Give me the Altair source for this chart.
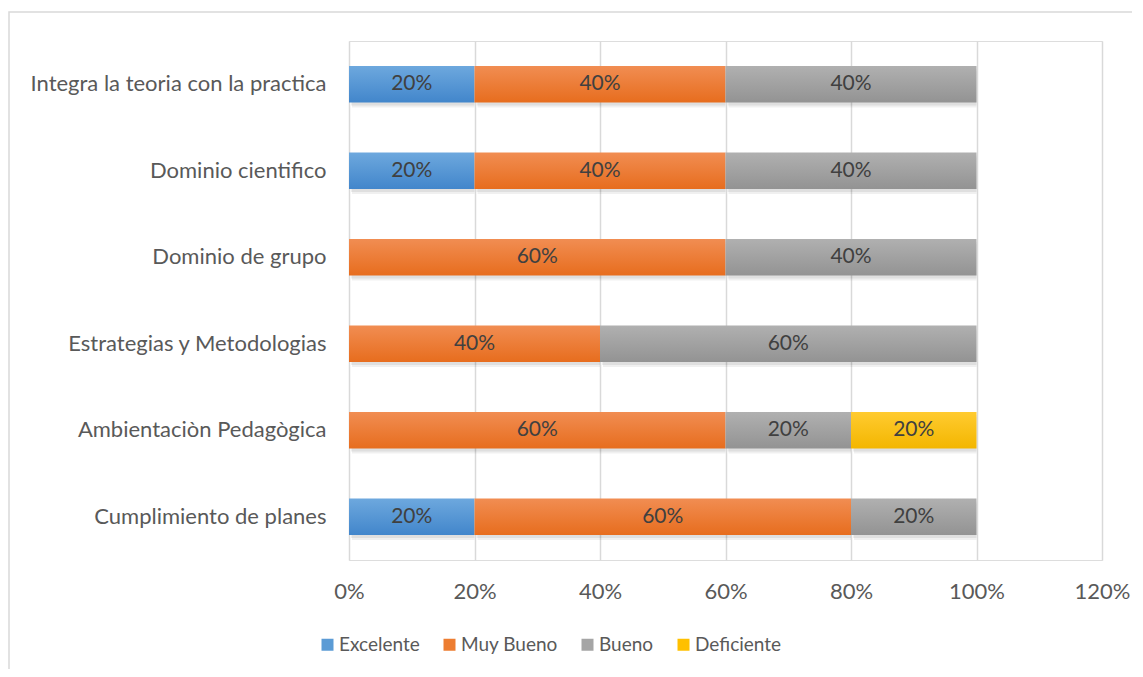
import altair as alt
import pandas as pd

categories = ["Integra la teoria con la practica", "Dominio cientifico", "Dominio de grupo",
              "Estrategias y Metodologias", "Ambientaciòn Pedagògica", "Cumplimiento de planes"]
series = ["Excelente", "Muy Bueno", "Bueno", "Deficiente"]
excelente = [0.20, 0.20, 0.0, 0.0, 0.0, 0.20]
muy_bueno = [0.40, 0.40, 0.60, 0.40, 0.60, 0.60]
bueno = [0.40, 0.40, 0.40, 0.60, 0.20, 0.20]
deficiente = [0.0, 0.0, 0.0, 0.0, 0.20, 0.0]
colors = ["#5B9BD5", "#ED7D31", "#A5A5A5", "#FFC000"]
grad_top = ["#6DA8DE", "#F18D52", "#B0B0B0", "#FFCB30"]
grad_bottom = ["#4286CB", "#E76D1E", "#939393", "#F3B600"]
x_ticks = [0, 0.2, 0.4, 0.6, 0.8, 1.0, 1.2]

rows = []
for s_i, (s, vals) in enumerate(zip(series, [excelente, muy_bueno, bueno, deficiente])):
    for c, v in zip(categories, vals):
        if v > 0:
            rows.append({"cat": c, "serie": s, "ord": s_i, "value": v})
df = pd.DataFrame(rows)

FONT = "Lato"
W, H = 753, 519

base = alt.Chart(df).transform_stack(
    stack="value", groupby=["cat"], as_=["v0", "v1"], sort=[alt.SortField("ord", "ascending")]
).transform_calculate(mid="(datum.v0 + datum.v1) / 2")

y_enc = alt.Y("cat:N", sort=categories, title=None,
              scale=alt.Scale(paddingInner=0.58, paddingOuter=0.29),
              axis=alt.Axis(domain=False, ticks=False, labelPadding=23, labelFontSize=22,
                            labelColor="#595959", labelFont=FONT, grid=False, labelLimit=400))

x_enc = alt.X("v0:Q", title=None,
              scale=alt.Scale(domain=[0, 1.2], nice=False),
              axis=alt.Axis(values=x_ticks, format=".0%", domain=False, ticks=False,
                            labelFontSize=22, labelColor="#595959", labelFont=FONT,
                            labelFlush=False, labelPadding=21,
                            grid=True, gridColor="#d9d9d9", gridWidth=1.5))

# invisible layer that carries the colour scale and the legend
legend_layer = base.mark_bar(opacity=0).encode(
    x=x_enc, x2="v1:Q", y=y_enc,
    color=alt.Color("serie:N", sort=series,
                    scale=alt.Scale(domain=series, range=colors),
                    legend=alt.Legend(title=None, orient="none", direction="horizontal",
                                      legendX=-31, legendY=594, symbolType="square",
                                      symbolSize=144, symbolStrokeWidth=0, symbolOpacity=1,
                                      labelFontSize=19, labelColor="#595959", labelFont=FONT,
                                      columnPadding=20, labelOffset=2)),
)

shadow1 = base.mark_bar(color="#000000", opacity=0.07, yOffset=3, xOffset=2).encode(
    x="v0:Q", x2="v1:Q", y=alt.Y("cat:N", sort=categories))
shadow2 = base.mark_bar(color="#000000", opacity=0.06, yOffset=5, xOffset=3).encode(
    x="v0:Q", x2="v1:Q", y=alt.Y("cat:N", sort=categories))

seg_layers = []
for s, top, bot in zip(series, grad_top, grad_bottom):
    seg_layers.append(
        base.transform_filter(alt.datum.serie == s).mark_bar(
            color=alt.Gradient(gradient="linear",
                               stops=[alt.GradientStop(color=top, offset=0),
                                      alt.GradientStop(color=bot, offset=1)],
                               x1=0, x2=0, y1=0, y2=1)
        ).encode(x="v0:Q", x2="v1:Q", y=alt.Y("cat:N", sort=categories))
    )

labels = base.mark_text(fontSize=21, color="#404040", font=FONT).encode(
    x=alt.X("mid:Q"),
    y=alt.Y("cat:N", sort=categories),
    text=alt.Text("value:Q", format=".0%"),
)

frame = alt.Chart(pd.DataFrame({"a": [0]})).mark_rect(
    fill=None, stroke="#d9d9d9", strokeWidth=1.5, clip=False
).encode(x=alt.value(-340), x2=alt.value(W + 60), y=alt.value(-29), y2=alt.value(H + 140))

chart = alt.layer(frame, legend_layer, shadow2, shadow1, *seg_layers, labels).properties(
    width=W, height=H,
    autosize=alt.AutoSizeParams(type="none"),
    padding={"left": 341, "top": 33, "right": 30, "bottom": 109},
).configure_view(stroke=None).configure(font=FONT)

chart.save("out.html", embed_options={"renderer": "svg", "actions": False})
